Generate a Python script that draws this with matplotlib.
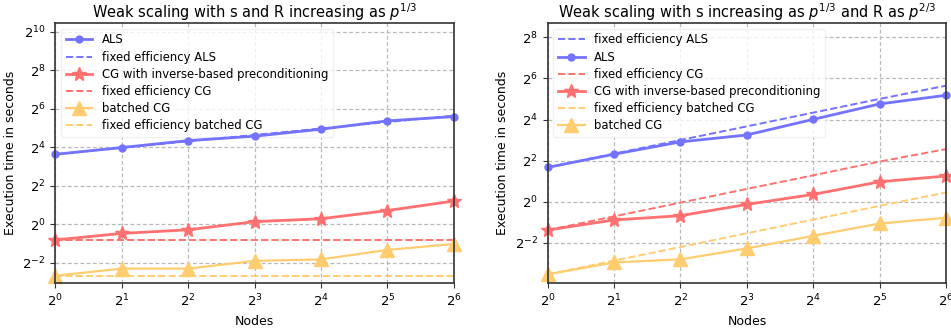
import math

import matplotlib
matplotlib.use("Agg")
import matplotlib.pyplot as plt
import matplotlib.ticker as ticker

# x positions: nodes
nodes = [1, 2, 4, 8, 16, 32, 64]

# left panel: s and R increasing as p^(1/3)  (seconds)
als_1 = [12.4, 15.8, 20.3, 23.8, 30.6, 41.3, 48.2]
als_fixed_1 = [12.4, 15.7, 19.8, 24.9, 31.4, 39.6, 49.9]
cg_1 = [0.57, 0.72, 0.82, 1.10, 1.22, 1.64, 2.31]
cg_fixed_1 = [0.57, 0.57, 0.57, 0.57, 0.57, 0.57, 0.57]
bcg_1 = [0.157, 0.203, 0.203, 0.268, 0.283, 0.398, 0.493]
bcg_fixed_1 = [0.157, 0.157, 0.157, 0.157, 0.157, 0.157, 0.157]

# right panel: s as p^(1/3), R as p^(2/3)
als_2 = [3.18, 4.96, 7.52, 9.51, 16.1, 27.1, 36.3]
als_fixed_2 = [3.18, 5.05, 8.02, 12.7, 20.2, 32.1, 50.2]
cg_2 = [0.384, 0.540, 0.624, 0.913, 1.28, 1.96, 2.38]
cg_fixed_2 = [0.384, 0.610, 0.968, 1.54, 2.44, 3.88, 5.90]
bcg_2 = [0.086, 0.129, 0.143, 0.207, 0.316, 0.480, 0.582]
bcg_fixed_2 = [0.086, 0.137, 0.217, 0.345, 0.548, 0.870, 1.37]

BLUE = "#7373ff"
RED = "#ff7070"
ORANGE = "#ffcd70"

plt.rcParams["font.family"] = "DejaVu Sans"

fig, (ax1, ax2) = plt.subplots(1, 2, figsize=(9.51, 3.28), dpi=100)
fig.subplots_adjust(left=0.058, right=0.995, bottom=0.137, top=0.93, wspace=0.235)


def pow2(x, _):
    return r"$2^{%d}$" % round(math.log2(x))


def style(ax, title, ylo, yhi, yticks):
    ax.set_xscale("log", base=2)
    ax.set_yscale("log", base=2)
    ax.set_xlim(1, 64)
    ax.set_ylim(ylo, yhi)
    ax.set_xticks(nodes)
    ax.set_yticks(yticks)
    ax.xaxis.set_major_formatter(ticker.FuncFormatter(pow2))
    ax.yaxis.set_major_formatter(ticker.FuncFormatter(pow2))
    ax.xaxis.set_minor_locator(ticker.NullLocator())
    ax.yaxis.set_minor_locator(ticker.NullLocator())
    ax.grid(True, which="major", linestyle=(0, (3, 2)), color="#b8b8b8", linewidth=0.9)
    ax.set_axisbelow(True)
    for s in ax.spines.values():
        s.set_color("#333333")
        s.set_linewidth(1.2)
    ax.tick_params(labelsize=9.5, color="#333333")
    ax.set_xlabel("Nodes", fontsize=9)
    ax.set_ylabel("Execution time in seconds", fontsize=9)
    ax.set_title(title, fontsize=10.5, pad=3)


def legend(ax):
    leg = ax.legend(loc="upper left", fontsize=8.4, handlelength=2.3, labelspacing=0.36,
                    framealpha=0.8, edgecolor="#eeeeee", borderaxespad=0.5)
    # keep the curves on top of the legend box, as in the original figure
    leg.set_zorder(1.5)


lw = 2
ax1.plot(nodes, als_1, color=BLUE, marker="o", markersize=5, lw=lw, label="ALS", clip_on=False)
ax1.plot(nodes, als_fixed_1, color=BLUE, ls="--", lw=1.4, label="fixed efficiency ALS")
ax1.plot(nodes, cg_1, color=RED, marker="*", markersize=10, lw=lw,
         label="CG with inverse-based preconditioning", clip_on=False)
ax1.plot(nodes, cg_fixed_1, color=RED, ls="--", lw=1.4, label="fixed efficiency CG")
ax1.plot(nodes, bcg_1, color=ORANGE, marker="^", markersize=10, lw=1.6, label="batched CG", clip_on=False)
ax1.plot(nodes, bcg_fixed_1, color=ORANGE, ls="--", lw=1.4, label="fixed efficiency batched CG")
style(ax1, r"Weak scaling with s and R increasing as $p^{1/3}$",
      2 ** -3.05, 2 ** 10.45, [2 ** k for k in range(-2, 11, 2)])
legend(ax1)

ax2.plot(nodes, als_fixed_2, color=BLUE, ls="--", lw=1.4, label="fixed efficiency ALS")
ax2.plot(nodes, als_2, color=BLUE, marker="o", markersize=5, lw=lw, label="ALS", clip_on=False)
ax2.plot(nodes, cg_fixed_2, color=RED, ls="--", lw=1.4, label="fixed efficiency CG")
ax2.plot(nodes, cg_2, color=RED, marker="*", markersize=10, lw=lw,
         label="CG with inverse-based preconditioning", clip_on=False)
ax2.plot(nodes, bcg_fixed_2, color=ORANGE, ls="--", lw=1.4, label="fixed efficiency batched CG")
ax2.plot(nodes, bcg_2, color=ORANGE, marker="^", markersize=10, lw=1.6, label="batched CG", clip_on=False)
style(ax2, r"Weak scaling with s increasing as $p^{1/3}$ and R as $p^{2/3}$",
      2 ** -3.96, 2 ** 8.70, [2 ** k for k in range(-2, 9, 2)])
legend(ax2)

fig.savefig("out.png", dpi=100)
